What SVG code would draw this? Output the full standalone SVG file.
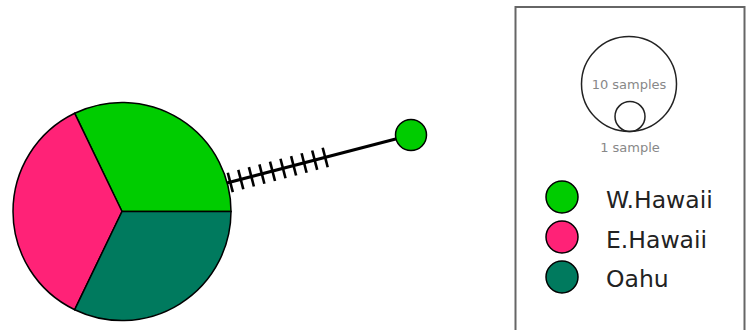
<svg xmlns="http://www.w3.org/2000/svg" width="746" height="330" viewBox="0 0 746 330">
  <style>
    .edge { stroke: #000; stroke-width: 3; fill: none; }
    .tick { stroke: #000; stroke-width: 2.6; }
    .wedge { stroke: #000; stroke-width: 1.5; }
    .w { fill: #00cc00; }
    .e { fill: #ff2277; }
    .o { fill: #007a5e; }
    .scale { fill: none; stroke: #222; stroke-width: 1.5; }
    .small { font-family: "DejaVu Sans", sans-serif; font-size: 13px; fill: #888; text-anchor: middle; }
    .lbl { font-family: "DejaVu Sans", sans-serif; font-size: 23.5px; fill: #222; }
  </style>
  <rect width="746" height="330" fill="#fff"/>
  <g id="connectors">
    <line class="edge" x1="200" y1="190" x2="411" y2="135"/>
    <g id="mutations">
      <line class="tick" x1="227.8" y1="172.7" x2="232.8" y2="192.1"/>
      <line class="tick" x1="238.3" y1="169.9" x2="243.3" y2="189.3"/>
      <line class="tick" x1="248.9" y1="167.1" x2="253.9" y2="186.5"/>
      <line class="tick" x1="259.4" y1="164.4" x2="264.4" y2="183.8"/>
      <line class="tick" x1="270.0" y1="161.6" x2="275.0" y2="181.0"/>
      <line class="tick" x1="280.5" y1="158.8" x2="285.5" y2="178.2"/>
      <line class="tick" x1="291.1" y1="156.1" x2="296.1" y2="175.5"/>
      <line class="tick" x1="301.6" y1="153.3" x2="306.6" y2="172.7"/>
      <line class="tick" x1="312.2" y1="150.5" x2="317.2" y2="169.9"/>
      <line class="tick" x1="322.7" y1="147.8" x2="327.7" y2="167.2"/>
    </g>
  </g>
  <g id="node-main">
    <path class="wedge w" d="M122,211.5 L231,211.5 A109,109 0 0 0 74.7,113.3 Z"/>
    <path class="wedge e" d="M122,211.5 L74.7,113.3 A109,109 0 0 0 74.7,309.7 Z"/>
    <path class="wedge o" d="M122,211.5 L74.7,309.7 A109,109 0 0 0 231,211.5 Z"/>
  </g>
  <g id="node-small">
    <circle class="wedge w" cx="411" cy="135" r="15.5"/>
  </g>
  <g id="legend">
    <rect x="515.5" y="7" width="229" height="330" fill="none" stroke="#666" stroke-width="2"/>
    <circle class="scale" cx="629" cy="84" r="47.5"/>
    <circle class="scale" cx="630" cy="116.5" r="15"/>
    <text class="small" x="629" y="89">10 samples</text>
    <text class="small" x="630" y="152">1 sample</text>
    <circle class="wedge w" cx="562" cy="197" r="16"/>
    <circle class="wedge e" cx="562" cy="237" r="16"/>
    <circle class="wedge o" cx="562" cy="277" r="16"/>
    <text class="lbl" x="606" y="208">W.Hawaii</text>
    <text class="lbl" x="606" y="248">E.Hawaii</text>
    <text class="lbl" x="606" y="287">Oahu</text>
  </g>
</svg>
